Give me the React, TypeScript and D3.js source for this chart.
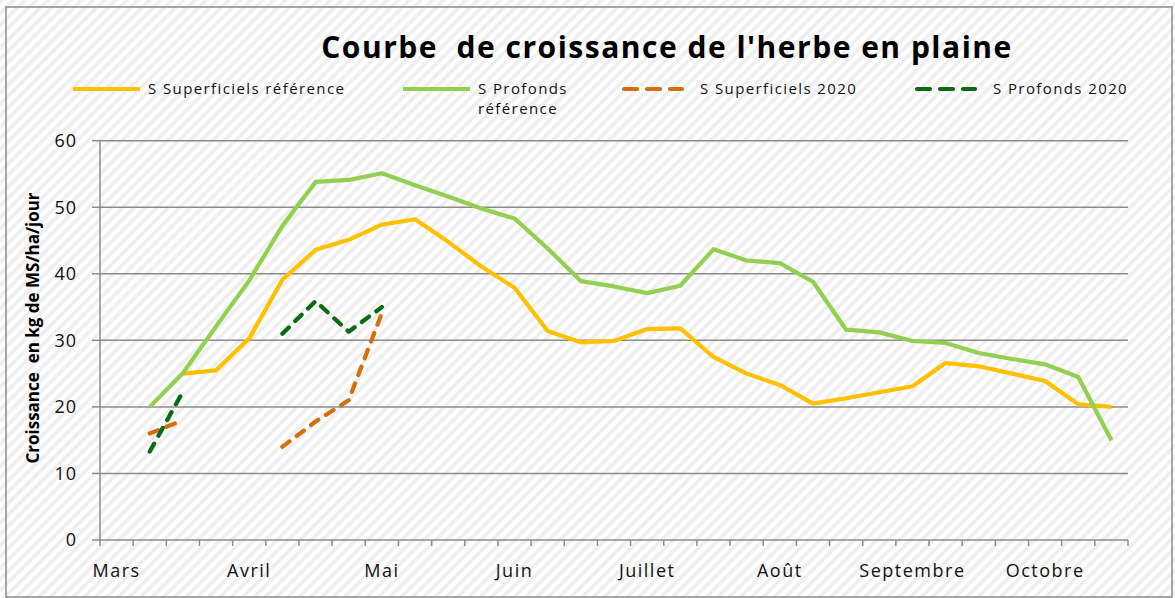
import * as d3 from "d3";
import { useEffect, useRef } from "react";

// weekly categories, month name every 4 weeks
const weekLabels = ["Mars", "", "", "", "Avril", "", "", "", "Mai", "", "", "", "Juin", "", "", "", "Juillet", "", "", "", "Août", "", "", "", "Septembre", "", "", "", "Octobre", "", ""];
const yTicks = [0, 10, 20, 30, 40, 50, 60];

const superficielsRef = [null, null, 25.0, 25.5, 30.3, 39.1, 43.6, 45.1, 47.4, 48.2, 44.8, 41.1, 37.9, 31.4, 29.7, 29.9, 31.7, 31.8, 27.5, 25.0, 23.3, 20.5, 21.3, 22.2, 23.1, 26.6, 26.1, 25.0, 23.9, 20.4, 20.0];
const profondsRef = [null, 20.0, 25.1, 32.1, 39.0, 47.2, 53.8, 54.1, 55.1, 53.3, 51.6, 49.8, 48.3, 43.8, 38.9, 38.1, 37.1, 38.2, 43.7, 42.0, 41.6, 38.8, 31.6, 31.2, 29.9, 29.6, 28.1, 27.2, 26.4, 24.5, 15.0];
const superficiels2020 = [null, 16.0, 18.0, null, null, 14.0, 17.8, 21.0, 34.1, null, null, null, null, null, null, null, null, null, null, null, null, null, null, null, null, null, null, null, null, null, null];
const profonds2020 = [null, 13.3, 22.3, null, null, 31.0, 35.9, 31.3, 35.0, null, null, null, null, null, null, null, null, null, null, null, null, null, null, null, null, null, null, null, null, null, null];

type Serie = { name: string[]; values: (number | null)[]; color: string; dash: string | null };

const series: Serie[] = [
  { name: ["S Superficiels référence"], values: superficielsRef, color: "#FFC000", dash: null },
  { name: ["S Profonds", "référence"], values: profondsRef, color: "#92D050", dash: null },
  { name: ["S Superficiels 2020"], values: superficiels2020, color: "#D56E0C", dash: "9,9" },
  { name: ["S Profonds 2020"], values: profonds2020, color: "#0B6B12", dash: "9,9" },
];

const W = 1175;
const H = 598;
const font = "'Open Sans', 'Noto Sans', sans-serif";

const App = () => {
  const ref = useRef<SVGSVGElement>(null);

  useEffect(() => {
    const svg = d3.select(ref.current);
    svg.selectAll("*").remove();

    // hatched background
    const defs = svg.append("defs");
    const pat = defs.append("pattern")
      .attr("id", "hatch")
      .attr("patternUnits", "userSpaceOnUse")
      .attr("width", 8).attr("height", 8)
      .attr("patternTransform", "rotate(45)");
    pat.append("rect").attr("width", 8).attr("height", 8).attr("fill", "#ffffff");
    pat.append("rect").attr("width", 3.5).attr("height", 8).attr("fill", "#eeeeee");

    svg.append("rect").attr("width", W).attr("height", H).attr("fill", "url(#hatch)");
    svg.append("rect")
      .attr("x", 6).attr("y", 7).attr("width", 1166).attr("height", 590)
      .attr("fill", "none").attr("stroke", "#8a8a8a").attr("stroke-width", 1.5);

    const x = d3.scaleBand<number>().domain(d3.range(weekLabels.length)).range([100, 1128]);
    const y = d3.scaleLinear().domain([0, 60]).range([540, 140.7]);
    const cx = (i: number) => (x(i) as number) + x.bandwidth() / 2;

    // grid
    svg.append("g").selectAll("line").data(yTicks.filter(t => t > 0)).join("line")
      .attr("x1", 100).attr("x2", 1128)
      .attr("y1", d => y(d)).attr("y2", d => y(d))
      .attr("stroke", "#8c8c8c").attr("stroke-width", 1.5);

    // y axis
    const yAxis = svg.append("g");
    yAxis.append("line").attr("x1", 100).attr("x2", 100).attr("y1", y(60)).attr("y2", y(0))
      .attr("stroke", "#8c8c8c").attr("stroke-width", 1.5);
    yAxis.selectAll("line.tk").data(yTicks).join("line").attr("class", "tk")
      .attr("x1", 92).attr("x2", 100).attr("y1", d => y(d)).attr("y2", d => y(d))
      .attr("stroke", "#8c8c8c").attr("stroke-width", 1.5);
    yAxis.selectAll("text").data(yTicks).join("text")
      .attr("x", 77).attr("y", d => y(d)).attr("dy", "0.36em")
      .attr("text-anchor", "end")
      .attr("font-family", font).attr("font-size", 18).attr("letter-spacing", 1)
      .attr("fill", "#111").text(d => d);

    // x axis
    const xAxis = svg.append("g");
    xAxis.append("line").attr("x1", 100).attr("x2", 1128).attr("y1", y(0)).attr("y2", y(0))
      .attr("stroke", "#8c8c8c").attr("stroke-width", 1.5);
    xAxis.selectAll("line.tk").data(d3.range(weekLabels.length + 1)).join("line").attr("class", "tk")
      .attr("x1", d => 100 + d * x.step()).attr("x2", d => 100 + d * x.step())
      .attr("y1", y(0)).attr("y2", y(0) + 6)
      .attr("stroke", "#8c8c8c").attr("stroke-width", 1.5);
    xAxis.selectAll("text").data(weekLabels.map((l, i) => ({ l, i })).filter(d => d.l !== "")).join("text")
      .attr("x", d => cx(d.i)).attr("y", 577)
      .attr("text-anchor", "middle")
      .attr("font-family", font).attr("font-size", 18).attr("letter-spacing", 1.5)
      .attr("fill", "#111").text(d => d.l);

    // lines
    const line = d3.line<number | null>()
      .defined(d => d !== null)
      .x((_, i) => cx(i))
      .y(d => y(d as number));

    series.forEach(s => {
      svg.append("path")
        .datum(s.values)
        .attr("d", line)
        .attr("fill", "none")
        .attr("stroke", s.color)
        .attr("stroke-width", 4.2)
        .attr("stroke-linejoin", "round")
        .attr("stroke-linecap", s.dash ? "round" : "butt")
        .attr("stroke-dasharray", s.dash);
    });

    // title
    svg.append("text")
      .attr("x", 667).attr("y", 58)
      .attr("text-anchor", "middle")
      .attr("font-family", font).attr("font-weight", "bold").attr("font-size", 30)
      .attr("letter-spacing", 1.5)
      .attr("fill", "#000")
      .attr("xml:space", "preserve")
      .text("Courbe  de croissance de l'herbe en plaine");

    // y title
    svg.append("text")
      .attr("transform", "translate(39,328) rotate(-90)")
      .attr("text-anchor", "middle")
      .attr("font-family", font).attr("font-weight", "bold").attr("font-size", 17)
      .attr("fill", "#000")
      .attr("xml:space", "preserve")
      .text("Croissance  en kg de MS/ha/jour");

    // legend
    const legendX = [73, 403, 622, 915];
    const leg = svg.append("g");
    series.forEach((s, i) => {
      const g = leg.append("g").attr("transform", `translate(${legendX[i]},89)`);
      g.append("line").attr("x1", 0).attr("x2", s.dash ? 58 : 67).attr("y1", 0).attr("y2", 0)
        .attr("stroke", s.color).attr("stroke-width", 4.2)
        .attr("stroke-linecap", s.dash ? "round" : "butt")
        .attr("stroke-dasharray", s.dash ? "13,10" : null)
        .attr("transform", s.dash ? "translate(2,0)" : null);
      const t = g.append("text")
        .attr("x", s.dash ? 78 : 75).attr("y", 0)
        .attr("font-family", font).attr("font-size", 15).attr("letter-spacing", 1.4)
        .attr("fill", "#111");
      s.name.forEach((n, k) => {
        t.append("tspan").attr("x", s.dash ? 78 : 75).attr("dy", k === 0 ? "0.35em" : "20").text(n);
      });
    });
  }, []);

  return (
    <svg ref={ref} width={W} height={H} style={{ position: "absolute", left: 0, top: 0 }} />
  );
};

export default App;
